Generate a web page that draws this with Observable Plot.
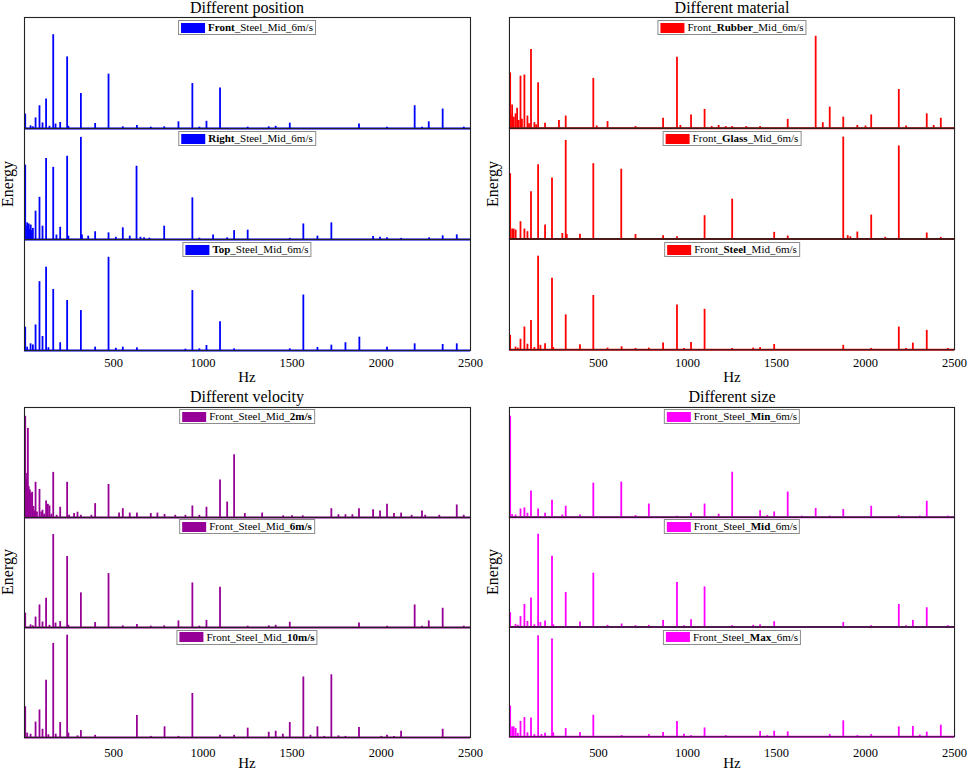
<!DOCTYPE html>
<html>
<head>
<meta charset="utf-8">
<script src="https://cdn.jsdelivr.net/npm/d3@7"></script>
<script src="https://cdn.jsdelivr.net/npm/@observablehq/plot@0.6"></script>
<style>
  html, body { margin: 0; padding: 0; background: #fff; }
  #root { position: relative; width: 969px; height: 771px; overflow: hidden; font-family: "Liberation Serif", "Times New Roman", serif; color: #000; }
  #root svg, #root svg text { font-family: "Liberation Serif", "Times New Roman", serif !important; }
  .panel { position: absolute; }
  .title { position: absolute; font-size: 16px; transform: translate(-50%, -50%); white-space: nowrap; }
  .hz { position: absolute; font-size: 15px; transform: translate(-50%, -50%); }
  .energy { position: absolute; font-size: 16px; transform: translate(-50%, -50%) rotate(-90deg); white-space: nowrap; }
  .leg { position: absolute; transform: translateX(-50%); display: flex; align-items: center; gap: 3px;
         border: 1px solid #8c8c8c; background: #fff; padding: 1px 2px 1px 2px; font-size: 11px; line-height: 11px; white-space: nowrap; }
  .sw { display: inline-block; width: 24px; height: 10px; }
</style>
</head>
<body>
<div id="root"></div>
<script>
// ---- data: [Hz, energy (relative, % of panel height)] ----
const frontSteelMid6 = [[4,13],[34,2.4],[47,1.5],[62,9.5],[84,20.5],[101,5],[121,26.5],[140,2],[161,84.5],[174,4],[200,5.4],[239,64.5],[246,2],[316,31.5],[396,4.5],[471,49],[551,1.5],[630,2.7],[708,1.2],[783,1.5],[863,6],[941,40.5],[980,1.2],[1020,6.5],[1096,36.5],[1251,1.2],[1369,1.5],[1408,2],[1487,4.8],[1875,4],[2032,1.2],[2187,20.5],[2228,1.2],[2266,6],[2344,17.5],[2462,1.2]];
const rightSteelMid6 = [[4,67],[8,12],[15,15],[20,10],[24,14],[30,9],[35,13],[40,8],[47,10],[62,25.5],[84,38],[101,12],[121,73],[161,65],[179,4],[200,11],[239,75],[246,3],[316,92],[322,4],[357,3],[396,7],[471,6],[512,2],[551,10.5],[590,3],[628,66],[650,2],[670,1.5],[700,1.2],[783,12],[941,37.5],[980,1.2],[1057,4],[1136,1.5],[1175,8],[1251,8.4],[1487,1],[1563,14],[1642,3],[1720,15],[1954,2.7],[1993,2],[2032,1.5],[2111,1],[2268,1.5],[2344,3.3],[2423,4.2]];
const topSteelMid6 = [[4,21],[15,3],[34,6],[47,5],[62,23],[84,62],[101,12.6],[121,75],[134,2.5],[161,55],[200,7],[239,45],[316,36],[396,3],[471,84],[512,2],[551,3],[630,2.4],[902,1.2],[941,54],[980,1.5],[1020,4.5],[1096,26],[1175,1.5],[1487,1.5],[1563,50],[1642,2.7],[1720,4.8],[1799,7],[1877,12],[2032,3],[2187,6],[2344,5.4],[2423,6]];
const frontRubberMid6 = [[4,50],[8,12],[15,21],[24,10],[34,13],[43,18],[52,7],[62,47],[70,8],[84,48],[101,11],[110,4],[121,71],[140,5],[150,3],[161,41],[200,4.5],[278,7],[316,11],[471,45],[490,2],[551,6],[708,1.5],[863,9],[941,64],[960,2.5],[1020,12],[1096,17],[1136,1.5],[1175,2.5],[1215,1.5],[1251,1.5],[1330,1.5],[1408,1.5],[1563,8],[1720,83],[1760,5],[1799,19],[1875,10],[1954,2.5],[2000,2],[2032,12],[2187,35],[2228,2],[2344,13],[2383,2.5],[2423,9]];
const frontGlassMid6 = [[4,59],[15,9],[24,9],[35,8],[62,15.6],[84,9],[101,6.6],[121,42.6],[161,67],[200,12.6],[239,55],[297,5],[316,89],[322,4],[396,4.2],[471,68],[628,63],[708,4],[863,3],[941,2],[1096,21],[1251,36],[1487,6],[1563,2.7],[1875,92],[1900,3],[1915,2],[1954,6.3],[2032,21.6],[2111,1.5],[2187,84],[2344,5.4],[2423,1.5]];
const frontSteelMid2 = [[4,92],[8,40],[12,35],[19,81],[24,28],[30,25],[36,22],[43,23],[50,10],[56,6],[62,32],[70,5],[84,25.5],[94,5],[101,6.6],[110,3],[121,15],[131,12],[140,10.5],[150,3],[161,41],[180,2],[200,9.3],[239,32],[250,2],[278,3.6],[297,4.8],[316,2],[375,2],[396,12.6],[471,30],[530,4],[551,8],[590,4],[630,4],[708,3.6],[745,4],[785,2.7],[845,2],[902,2],[941,10.5],[980,2],[1020,9.3],[1096,34],[1136,14],[1175,57],[1235,3.6],[1332,4],[1450,1.5],[1500,1.5],[1560,1.5],[1720,8],[1760,2.5],[1799,2.5],[1838,2.5],[1875,8],[1954,7],[1993,6],[2032,12],[2071,3.6],[2111,4],[2170,2],[2228,6],[2246,2],[2325,2],[2423,11.4],[2462,2]];
const frontSteelMid10 = [[4,28],[15,4],[34,3],[62,14],[84,25],[101,7.5],[121,52],[134,2.5],[161,85.5],[175,3],[200,13.6],[239,93],[246,4],[297,1.5],[316,6.3],[396,2],[630,20],[708,1],[785,9.7],[863,1],[941,40],[1096,2],[1175,2],[1251,8.5],[1369,4.8],[1408,5.7],[1448,3],[1487,13.6],[1563,55],[1603,2],[1642,9.7],[1680,1],[1720,57],[1760,1.5],[1799,1],[1875,9],[2000,1],[2032,2],[2071,1],[2111,5.7],[2344,7.5]];
const frontSteelMin6 = [[4,92],[15,2.4],[34,2],[62,7.5],[84,8.5],[101,3.6],[121,24],[161,7.5],[200,3.6],[239,15.4],[297,2],[316,10],[396,2],[471,31],[628,32],[708,1.5],[783,12],[941,1],[1020,3.6],[1096,12],[1175,2.7],[1251,41],[1408,6],[1448,1.5],[1487,4.8],[1563,23],[1642,1],[1720,8],[1799,1],[1875,7],[2032,10],[2187,1.5],[2305,1],[2344,14.5],[2462,1]];
const frontSteelMax6 = [[4,28],[15,9],[24,9],[35,7.5],[47,3],[62,14],[84,17.5],[101,3.6],[121,17],[140,2],[161,92],[180,2],[200,3.3],[239,89],[246,3.6],[316,7.5],[396,4],[471,19.6],[630,1],[783,2],[863,4],[941,14],[980,2.4],[1020,1],[1096,8],[1215,1],[1408,4.8],[1448,1],[1487,5],[1563,4.5],[1799,2],[1875,14.5],[1954,1],[2032,2],[2187,9],[2266,9.4],[2305,1.5],[2344,4.2],[2423,10.6]];

const xTicks = [500, 1000, 1500, 2000, 2500];
const panelTitles = ["Different position", "Different material", "Different velocity", "Different size"];
const panelColors = ["#0000ff", "#ff0000", "#970096", "#ff00ff"];
const panelSeries = [
  [frontSteelMid6, rightSteelMid6, topSteelMid6],
  [frontRubberMid6, frontGlassMid6, frontSteelMid6],
  [frontSteelMid2, frontSteelMid6, frontSteelMid10],
  [frontSteelMin6, frontSteelMid6, frontSteelMax6]
];
// legend labels: [plain, bold, plain]
const panelLegends = [
  [["", "Front", "_Steel_Mid_6m/s"], ["", "Right", "_Steel_Mid_6m/s"], ["", "Top", "_Steel_Mid_6m/s"]],
  [["Front_", "Rubber", "_Mid_6m/s"], ["Front_", "Glass", "_Mid_6m/s"], ["Front_", "Steel", "_Mid_6m/s"]],
  [["Front_Steel_Mid_", "2m/s", ""], ["Front_Steel_Mid_", "6m/s", ""], ["Front_Steel_Mid_", "10m/s", ""]],
  [["Front_Steel_", "Min", "_6m/s"], ["Front_Steel_", "Mid", "_6m/s"], ["Front_Steel_", "Max", "_6m/s"]]
];

// ---- layout ----
const root = document.getElementById("root");
const layout = [
  {left: 0,   top: 0,   facetH: 333, tickPad: 8,  hzY: 377},
  {left: 485, top: 0,   facetH: 333, tickPad: 8,  hzY: 377},
  {left: 0,   top: 389, facetH: 331, tickPad: 11, hzY: 763},
  {left: 485, top: 389, facetH: 331, tickPad: 11, hzY: 763}
];
const W = 485, mL = 24, mR = 15, mT = 17, mB = 40;

panelTitles.forEach((title, p) => {
  const L = layout[p];
  const color = panelColors[p];
  const rows = [];
  panelSeries[p].forEach((s, i) => s.forEach(([hz, e]) => rows.push({row: i, hz, e})));

  const chart = Plot.plot({
    width: W,
    height: mT + L.facetH + mB,
    marginLeft: mL, marginRight: mR, marginTop: mT, marginBottom: mB,
    style: {fontFamily: "Liberation Serif, serif", fontSize: "12.5px", color: "#000", background: "transparent", overflow: "visible"},
    x: {domain: [0, 2500], ticks: xTicks, tickFormat: d => String(d), tickSize: 0, tickPadding: L.tickPad, label: null},
    y: {domain: [0, 100], axis: null},
    fy: {domain: [0, 1, 2], axis: null, padding: 0},
    marks: [
      Plot.ruleY([0], {stroke: color, strokeWidth: 2}),
      Plot.ruleX(rows, {x: "hz", y1: 0, y2: "e", fy: "row", stroke: color, strokeWidth: 1.8}),
      Plot.frame({stroke: "#222", strokeWidth: 1.1})
    ]
  });
  const wrap = document.createElement("div");
  wrap.className = "panel";
  wrap.style.left = L.left + "px";
  wrap.style.top = L.top + "px";
  wrap.appendChild(chart);
  root.appendChild(wrap);

  const cx = L.left + mL + (W - mL - mR) / 2;
  const t = document.createElement("div");
  t.className = "title";
  t.textContent = title;
  t.style.left = cx + "px";
  t.style.top = (L.top + 8) + "px";
  root.appendChild(t);

  const hz = document.createElement("div");
  hz.className = "hz";
  hz.textContent = "Hz";
  hz.style.left = cx + "px";
  hz.style.top = L.hzY + "px";
  root.appendChild(hz);

  const en = document.createElement("div");
  en.className = "energy";
  en.textContent = "Energy";
  en.style.left = (L.left + 8) + "px";
  en.style.top = (L.top + mT + L.facetH / 2) + "px";
  root.appendChild(en);

  panelLegends[p].forEach((parts, i) => {
    const lg = document.createElement("div");
    lg.className = "leg";
    lg.style.left = cx + "px";
    lg.style.top = (L.top + mT + i * L.facetH / 3 + 3) + "px";
    const sw = document.createElement("span");
    sw.className = "sw";
    sw.style.background = color;
    lg.appendChild(sw);
    const tx = document.createElement("span");
    parts.forEach((s, k) => {
      if (!s) return;
      const el = document.createElement(k % 2 === 1 ? "b" : "span");
      el.textContent = s;
      tx.appendChild(el);
    });
    lg.appendChild(tx);
    root.appendChild(lg);
  });
});
</script>
</body>
</html>
